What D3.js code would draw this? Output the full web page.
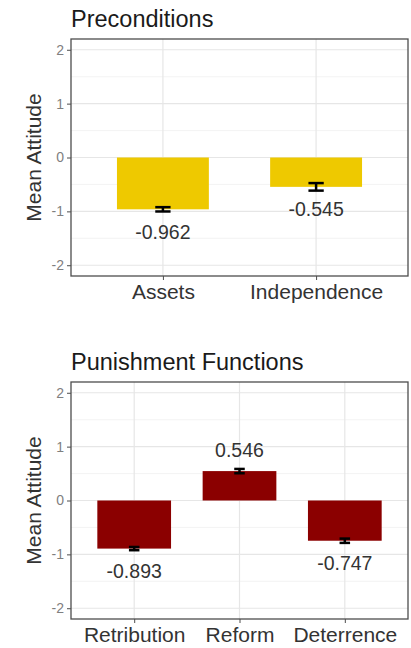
<!DOCTYPE html>
<html lang="en">
<head>
<meta charset="utf-8">
<title>Mean Attitude</title>
<script src="https://d3js.org/d3.v7.min.js"></script>
<style>
  body { margin: 0; background: #fff; }
  text { font-family: "Liberation Sans", Arial, sans-serif; }
</style>
</head>
<body>
<svg id="chart" width="411" height="648"></svg>
<script>
// data
var preCategories = ["Assets", "Independence"];
var preMeans = [-0.962, -0.545];
var preErr = [0.04, 0.07];

var punCategories = ["Retribution", "Reform", "Deterrence"];
var punMeans = [-0.893, 0.546, -0.747];
var punErr = [0.03, 0.04, 0.04];

var yTicks = [-2, -1, 0, 1, 2];
var yMinor = [-1.5, -0.5, 0.5, 1.5];

var svg = d3.select("#chart");

// plain hyphen instead of unicode minus, like R output
function hy(fmt) {
  return function(d) { return fmt(d).replace("\u2212", "-"); };
}

function panel(opts) {
  var left = 71, right = 408;
  var top = opts.top, bottom = opts.top + 237;
  var n = opts.cats.length;

  var y = d3.scaleLinear().domain([-2.2, 2.2]).range([bottom, top]);
  // discrete axis with 0.6 expansion like ggplot
  var x = d3.scaleLinear().domain([0.4, n + 0.6]).range([left, right]);
  var unit = x(2) - x(1);

  var g = svg.append("g");

  // title
  g.append("text")
    .attr("x", left).attr("y", top - 12)
    .attr("font-size", 23.5).attr("fill", "#1a1a1a")
    .text(opts.title);

  // grid
  g.selectAll(".minor").data(yMinor).enter().append("line")
    .attr("x1", left).attr("x2", right)
    .attr("y1", function(d) { return y(d); }).attr("y2", function(d) { return y(d); })
    .attr("stroke", "#f0f0f0").attr("stroke-width", 0.8);
  g.selectAll(".major").data(yTicks).enter().append("line")
    .attr("x1", left).attr("x2", right)
    .attr("y1", function(d) { return y(d); }).attr("y2", function(d) { return y(d); })
    .attr("stroke", "#e6e6e6").attr("stroke-width", 1.2);
  g.selectAll(".vmajor").data(opts.cats).enter().append("line")
    .attr("x1", function(d, i) { return x(i + 1); }).attr("x2", function(d, i) { return x(i + 1); })
    .attr("y1", top).attr("y2", bottom)
    .attr("stroke", "#e6e6e6").attr("stroke-width", 1.2);

  // bars
  var bw = opts.barWidth * unit;
  g.selectAll(".bar").data(opts.means).enter().append("rect")
    .attr("x", function(d, i) { return x(i + 1) - bw / 2; })
    .attr("width", bw)
    .attr("y", function(d) { return y(Math.max(0, d)); })
    .attr("height", function(d) { return Math.abs(y(d) - y(0)); })
    .attr("fill", opts.color);

  // error bars
  var cw = 0.1 * unit;
  opts.means.forEach(function(m, i) {
    var cx = x(i + 1), lo = y(m - opts.err[i]), hi = y(m + opts.err[i]);
    g.append("line").attr("x1", cx).attr("x2", cx).attr("y1", lo).attr("y2", hi)
      .attr("stroke", "#000").attr("stroke-width", 2.5);
    [lo, hi].forEach(function(yy) {
      g.append("line").attr("x1", cx - cw / 2).attr("x2", cx + cw / 2)
        .attr("y1", yy).attr("y2", yy)
        .attr("stroke", "#000").attr("stroke-width", 2.5);
    });
  });

  // value labels
  g.selectAll(".lab").data(opts.means).enter().append("text")
    .attr("x", function(d, i) { return x(i + 1); })
    .attr("y", function(d) { return y(d < 0 ? d - 0.42 : d + 0.4); })
    .attr("dy", "0.36em")
    .attr("text-anchor", "middle")
    .attr("font-size", 19.5).attr("fill", "#333")
    .text(hy(d3.format(".3f")));

  // border
  g.append("rect")
    .attr("x", left).attr("y", top).attr("width", right - left).attr("height", bottom - top)
    .attr("fill", "none").attr("stroke", "#4d4d4d").attr("stroke-width", 1.3);

  // y axis
  var yAxis = g.append("g")
    .attr("transform", "translate(" + left + ",0)")
    .call(d3.axisLeft(y).tickValues(yTicks).tickSize(4).tickPadding(3).tickFormat(hy(d3.format("d"))));
  yAxis.select(".domain").remove();
  yAxis.selectAll("line").attr("stroke", "#4d4d4d");
  yAxis.selectAll("text").attr("font-size", 14).attr("fill", "#7f7f7f")
    .style("font-family", "'Liberation Sans', Arial, sans-serif");

  // x axis
  var xAxis = g.append("g")
    .attr("transform", "translate(0," + bottom + ")")
    .call(d3.axisBottom(x).tickValues(d3.range(1, n + 1)).tickSize(4).tickPadding(4)
      .tickFormat(function(d) { return opts.cats[d - 1]; }));
  xAxis.select(".domain").remove();
  xAxis.selectAll("line").attr("stroke", "#4d4d4d");
  xAxis.selectAll("text").attr("font-size", 21).attr("fill", "#333")
    .style("font-family", "'Liberation Sans', Arial, sans-serif");

  // y title
  g.append("text")
    .attr("transform", "translate(41," + ((top + bottom) / 2) + ") rotate(-90)")
    .attr("text-anchor", "middle")
    .attr("font-size", 21).attr("fill", "#333")
    .text("Mean Attitude");
}

panel({ title: "Preconditions", top: 39, cats: preCategories, means: preMeans,
        err: preErr, color: "#EEC900", barWidth: 0.6 });
panel({ title: "Punishment Functions", top: 382, cats: punCategories, means: punMeans,
        err: punErr, color: "#8B0000", barWidth: 0.7 });
</script>
</body>
</html>
